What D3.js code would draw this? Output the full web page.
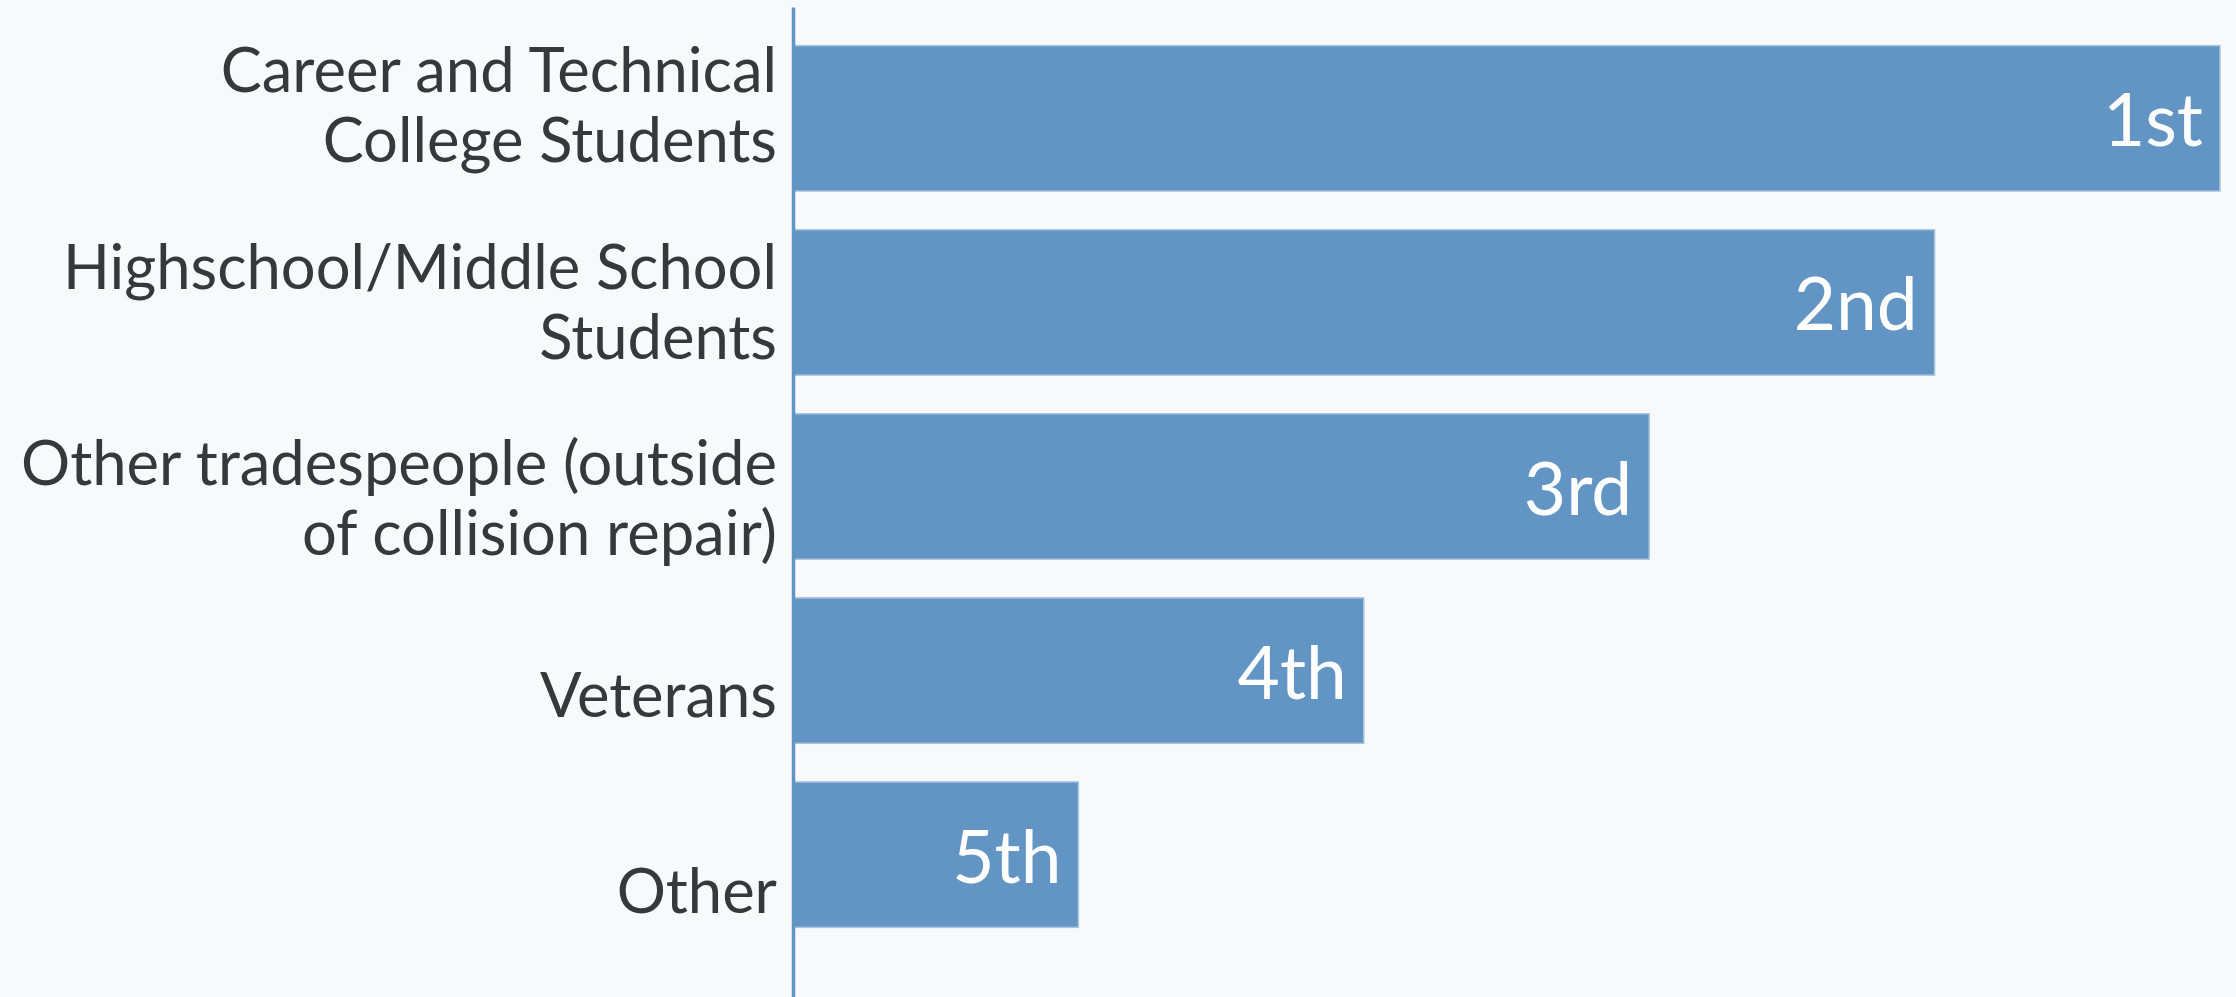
<!DOCTYPE html>
<html>
<head>
<meta charset="UTF-8">
<style>
body, html {
    margin: 0;
    padding: 0;
    width: 100%;
    height: 100%;
    overflow: hidden;
    background-color: #f8f9fb;
}
svg { display: block; }
</style>
</head>
<body>
<svg id="chart"></svg>
<script src="https://d3js.org/d3.v7.min.js"></script>
<script>
// groups ranked, top to bottom
let categories = [
    ["Career and Technical", "College Students"],
    ["Highschool/Middle School", "Students"],
    ["Other tradespeople (outside", "of collision repair)"],
    ["Veterans"],
    ["Other"]
];
let scores = [5, 4, 3, 2, 1];
let rankLabels = ["1st", "2nd", "3rd", "4th", "5th"];

let width = 2236, height = 997;
let axisX = 793;
let barColor = "#6294c4";
let fontFam = "Lato, 'Open Sans', sans-serif";

let svg = d3.select("#chart")
    .attr("width", width)
    .attr("height", height);

let keys = categories.map((c, i) => i);

let x = d3.scaleLinear()
    .domain([0, 5])
    .range([axisX, 2220]);

let y = d3.scaleBand()
    .domain(keys)
    .range([7, 966])
    .padding(0.21);

// the label column sits on its own slightly looser spacing
let yLab = d3.scalePoint()
    .domain(keys)
    .range([127, 913]);

svg.append("g")
    .selectAll("rect")
    .data(keys)
    .enter()
    .append("rect")
    .attr("x", x(0))
    .attr("y", d => y(d))
    .attr("width", d => x(scores[d]) - x(0))
    .attr("height", y.bandwidth())
    .attr("fill", barColor)
    .attr("stroke", "#a9c5e0")
    .attr("stroke-width", 1.5);

svg.append("g")
    .selectAll("text")
    .data(keys)
    .enter()
    .append("text")
    .attr("x", d => x(scores[d]) - 17)
    .attr("y", d => y(d) + y.bandwidth() / 2 + 28)
    .attr("text-anchor", "end")
    .attr("fill", "#ffffff")
    .style("font-family", fontFam)
    .style("font-size", "73px")
    .text(d => rankLabels[d]);

// category labels
let lab = svg.append("g")
    .selectAll("text")
    .data(keys)
    .enter()
    .append("text")
    .attr("text-anchor", "end")
    .attr("fill", "#35393e")
    .style("font-family", fontFam)
    .style("font-size", "61.5px");

lab.each(function (d) {
    let lines = categories[d];
    let lh = 70;
    let base = yLab(d) - (lines.length - 1) * lh / 2;
    d3.select(this).selectAll("tspan")
        .data(lines)
        .enter()
        .append("tspan")
        .attr("x", axisX - 16)
        .attr("y", (t, i) => base + i * lh)
        .text(t => t);
});

// vertical axis line
let yAxis = d3.axisLeft(d3.scaleLinear().range([7, height])).ticks(0).tickSize(0);
svg.append("g")
    .attr("transform", `translate(${axisX},0)`)
    .call(yAxis)
    .call(g => g.select(".domain").attr("stroke", barColor).attr("stroke-width", 3.5));
</script>
</body>
</html>
